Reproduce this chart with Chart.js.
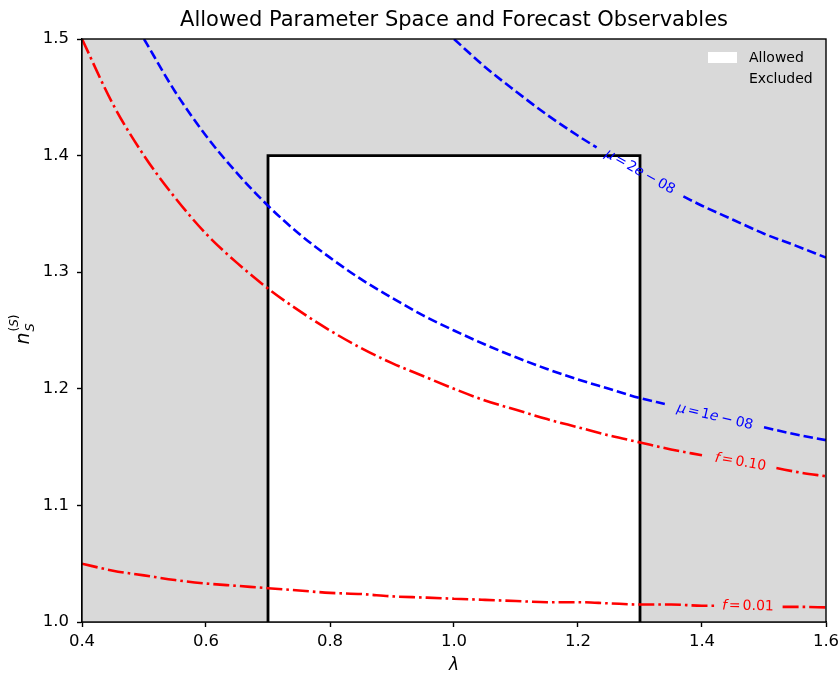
<!DOCTYPE html>
<html><head><meta charset="utf-8">
<script src="https://cdn.jsdelivr.net/npm/chart.js@4.4.1/dist/chart.umd.min.js"></script>
<style>html,body{margin:0;padding:0;background:#fff}#wrap{width:840px;height:673px}</style>
</head><body><div id="wrap"><canvas id="c" width="840" height="673"></canvas></div>
<script>
// ---- data ----
const rectX = [0.7, 0.7, 1.3, 1.3];
const rectY = [1.0, 1.4, 1.4, 1.0];

const mu2X = [1.00,1.05,1.10,1.15,1.20,1.23,1.30,1.37,1.40,1.45,1.50,1.55,1.60];
const mu2Y = [1.500,1.476,1.455,1.435,1.417,1.407,null,1.365,1.357,1.345,1.333,1.323,1.3125];

const mu1X = [0.50,0.55,0.60,0.65,0.70,0.75,0.80,0.85,0.90,0.95,1.00,1.05,1.10,1.15,1.20,1.25,1.30,1.34,1.42,1.50,1.55,1.60];
const mu1Y = [1.500,1.455,1.417,1.385,1.357,1.333,1.3125,1.294,1.278,1.263,1.250,1.238,1.227,1.217,1.208,1.200,1.192,1.187,null,1.167,1.161,1.156];

const f10X = [0.40,0.45,0.50,0.55,0.60,0.65,0.70,0.75,0.80,0.85,0.90,0.95,1.00,1.05,1.10,1.15,1.20,1.25,1.30,1.35,1.40,1.46,1.52,1.56,1.60];
const f10Y = [1.500,1.444,1.400,1.364,1.333,1.308,1.286,1.267,1.250,1.235,1.222,1.211,1.200,1.190,1.182,1.174,1.167,1.160,1.154,1.148,1.143,null,1.132,1.128,1.125];

const f01X = [0.40,0.45,0.50,0.55,0.60,0.65,0.70,0.75,0.80,0.85,0.90,0.95,1.00,1.05,1.10,1.15,1.20,1.25,1.30,1.35,1.40,1.42,1.47,1.53,1.56,1.60];
const f01Y = [1.050,1.044,1.040,1.036,1.033,1.031,1.029,1.027,1.025,1.024,1.022,1.021,1.020,1.019,1.018,1.017,1.017,1.016,1.015,1.015,1.014,1.014,null,1.013,1.013,1.0125];

const xTicks = [0.4,0.6,0.8,1.0,1.2,1.4,1.6];
const yTicks = [1.0,1.1,1.2,1.3,1.4,1.5];

// contour label anchors (data coords)
const labelX = [1.300, 1.421, 1.462, 1.474];
const labelY = [1.386, 1.176, 1.137, 1.0135];

const toPts = (xs, ys) => xs.map((x, i) => ({x: x, y: ys[i]}));

const BLUE = '#0000ff', RED = '#ff0000', GREY = '#d9d9d9';
const FONT = "'DejaVu Sans', sans-serif";

function gapAngle(xs, ys, sx, sy) {
  const i = ys.indexOf(null);
  const x0 = sx.getPixelForValue(xs[i-1]), y0 = sy.getPixelForValue(ys[i-1]);
  const x1 = sx.getPixelForValue(xs[i+1]), y1 = sy.getPixelForValue(ys[i+1]);
  return Math.atan2(y1 - y0, x1 - x0);
}

function drawSegs(ctx, segs) {
  let w = 0;
  segs.forEach(s => { ctx.font = s.f; w += ctx.measureText(s.t).width + (s.sp || 0); });
  let x = -w / 2;
  segs.forEach(s => { ctx.font = s.f; ctx.fillText(s.t, x, s.dy || 0); x += ctx.measureText(s.t).width + (s.sp || 0); });
}

const bgPlugin = {
  id: 'bg',
  beforeDatasetsDraw(chart) {
    const {ctx, chartArea: a} = chart;
    ctx.save();
    ctx.fillStyle = GREY;
    ctx.fillRect(a.left, a.top, a.right - a.left, a.bottom - a.top);
    ctx.restore();
  },
  afterDraw(chart) {
    const {ctx, chartArea: a, scales} = chart;
    const sx = scales.x, sy = scales.y;
    ctx.save();
    // frame
    ctx.strokeStyle = '#000'; ctx.lineWidth = 1.4;
    ctx.strokeRect(a.left, a.top, a.right - a.left, a.bottom - a.top);
    // title
    ctx.fillStyle = '#000'; ctx.textAlign = 'center'; ctx.textBaseline = 'middle';
    ctx.font = '21px ' + FONT;
    ctx.fillText('Allowed Parameter Space and Forecast Observables', (a.left + a.right) / 2, 21);
    // x label
    ctx.font = 'italic 17px ' + FONT;
    ctx.fillText('λ', (a.left + a.right) / 2, 666);
    // y label
    ctx.save();
    ctx.translate(23, (a.top + a.bottom) / 2);
    ctx.rotate(-Math.PI / 2);
    ctx.textAlign = 'left'; ctx.textBaseline = 'alphabetic';
    ctx.font = 'italic 19px ' + FONT;
    const nw = ctx.measureText('n').width;
    const sx0 = -14;
    ctx.fillText('n', sx0, 6);
    ctx.font = 'italic 13px ' + FONT;
    ctx.fillText('S', sx0 + nw + 1, 11);
    ctx.font = '12px ' + FONT;
    ctx.fillText('(', sx0 + nw + 1, -5);
    let ww = ctx.measureText('(').width;
    ctx.font = 'italic 12px ' + FONT;
    ctx.fillText('S', sx0 + nw + 1 + ww, -5);
    let w2 = ctx.measureText('S').width;
    ctx.font = '12px ' + FONT;
    ctx.fillText(')', sx0 + nw + 1 + ww + w2, -5);
    ctx.restore();
    // legend
    ctx.fillStyle = '#fff';
    ctx.fillRect(708, 52, 29, 11);
    ctx.fillStyle = GREY;
    ctx.fillRect(708, 73, 29, 11);
    ctx.fillStyle = '#000'; ctx.textAlign = 'left'; ctx.textBaseline = 'middle';
    ctx.font = '14px ' + FONT;
    ctx.fillText('Allowed', 749, 58);
    ctx.fillText('Excluded', 749, 79);
    // contour labels
    const it = 'italic 14px ' + FONT, rm = '14px ' + FONT;
    const labs = [
      {c: BLUE, xs: mu2X, ys: mu2Y, segs: [{t:'μ',f:it,sp:2},{t:'=',f:rm,sp:2},{t:'2',f:rm},{t:'e',f:it,sp:3},{t:'−',f:rm,sp:3},{t:'08',f:rm}]},
      {c: BLUE, xs: mu1X, ys: mu1Y, segs: [{t:'μ',f:it,sp:2},{t:'=',f:rm,sp:2},{t:'1',f:rm},{t:'e',f:it,sp:3},{t:'−',f:rm,sp:3},{t:'08',f:rm}]},
      {c: RED, xs: f10X, ys: f10Y, segs: [{t:'f',f:it,sp:2},{t:'=',f:rm,sp:2},{t:'0.10',f:rm}]},
      {c: RED, xs: f01X, ys: f01Y, segs: [{t:'f',f:it,sp:2},{t:'=',f:rm,sp:2},{t:'0.01',f:rm}]}
    ];
    labs.forEach((L, k) => {
      ctx.save();
      ctx.translate(sx.getPixelForValue(labelX[k]), sy.getPixelForValue(labelY[k]));
      ctx.rotate(gapAngle(L.xs, L.ys, sx, sy));
      ctx.fillStyle = L.c; ctx.textAlign = 'left'; ctx.textBaseline = 'middle';
      drawSegs(ctx, L.segs);
      ctx.restore();
    });
    ctx.restore();
  }
};

const blueDash = [9.5, 4];
const redDashDot = [16, 4, 2.6, 4];
const LW = 2.6;

new Chart(document.getElementById('c'), {
  type: 'scatter',
  data: {
    datasets: [
      {data: toPts(rectX, rectY), showLine: true, borderColor: '#000', borderWidth: 2.8,
       backgroundColor: '#fff', fill: 'start', pointRadius: 0, order: 5, tension: 0},
      {data: toPts(mu2X, mu2Y), showLine: true, borderColor: BLUE, borderWidth: LW,
       borderDash: blueDash, pointRadius: 0, fill: false, cubicInterpolationMode: 'monotone', order: 1},
      {data: toPts(mu1X, mu1Y), showLine: true, borderColor: BLUE, borderWidth: LW,
       borderDash: blueDash, pointRadius: 0, fill: false, cubicInterpolationMode: 'monotone', order: 2},
      {data: toPts(f10X, f10Y), showLine: true, borderColor: RED, borderWidth: LW,
       borderDash: redDashDot, pointRadius: 0, fill: false, cubicInterpolationMode: 'monotone', order: 3},
      {data: toPts(f01X, f01Y), showLine: true, borderColor: RED, borderWidth: LW,
       borderDash: redDashDot, pointRadius: 0, fill: false, cubicInterpolationMode: 'monotone', order: 4}
    ]
  },
  options: {
    responsive: false, animation: false, spanGaps: false,
    layout: {padding: {left: 0, right: 14, top: 39, bottom: 0}},
    plugins: {legend: {display: false}, tooltip: {enabled: false}, title: {display: false}},
    scales: {
      x: {
        type: 'linear', min: 0.4, max: 1.6,
        afterBuildTicks: s => { s.ticks = xTicks.map(v => ({value: v})); },
        afterFit: s => { s.height = 51; s.paddingLeft = 0; s.paddingRight = 0; },
        grid: {display: true, drawOnChartArea: false, drawTicks: true, tickLength: 5, color: '#000', tickWidth: 1.4},
        border: {display: true, color: '#000', width: 1.4},
        ticks: {color: '#000', font: {family: 'DejaVu Sans', size: 16.5}, padding: 5, maxRotation: 0,
                callback: v => Number(v).toFixed(1)}
      },
      y: {
        type: 'linear', min: 1.0, max: 1.5,
        afterBuildTicks: s => { s.ticks = yTicks.map(v => ({value: v})); },
        afterFit: s => { s.width = 82; s.paddingTop = 0; s.paddingBottom = 0; },
        grid: {display: true, drawOnChartArea: false, drawTicks: true, tickLength: 5, color: '#000', tickWidth: 1.4},
        border: {display: true, color: '#000', width: 1.4},
        ticks: {color: '#000', font: {family: 'DejaVu Sans', size: 16.5}, padding: 8,
                callback: v => Number(v).toFixed(1)}
      }
    }
  },
  plugins: [bgPlugin]
});
</script>
</body></html>
